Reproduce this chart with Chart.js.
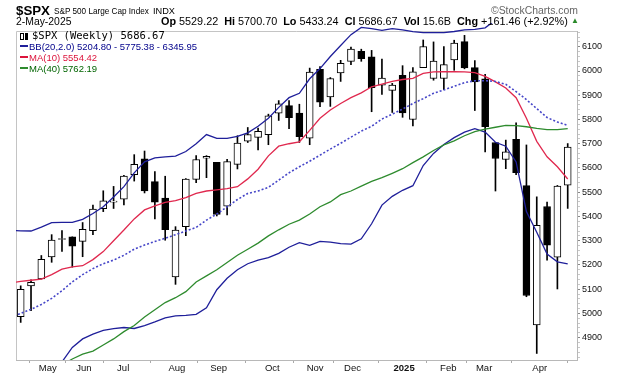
<!DOCTYPE html>
<html><head><meta charset="utf-8">
<script src="https://cdn.jsdelivr.net/npm/chart.js@4/dist/chart.umd.min.js"></script>
<style>
html,body{margin:0;padding:0;background:#fff;}
#wrap{position:relative;width:620px;height:376px;overflow:hidden;font-family:"Liberation Sans",Arial,sans-serif;color:#000;}
canvas{position:absolute;left:0;top:0;}
.t{position:absolute;white-space:pre;line-height:1;}
.lg{position:absolute;white-space:pre;line-height:11px;font-size:9.5px;left:20px;}
.mk{display:inline-block;width:8px;height:2px;vertical-align:middle;margin-right:1px;position:relative;top:-1px;}
</style></head><body>
<div id="wrap">
<canvas id="c" width="620" height="376"></canvas>
<div class="t hd" data-x="16" data-b="15" data-w="34" style="font-size:13px;font-weight:bold;">$SPX</div>
<div class="t hd" data-x="54" data-b="14.5" data-w="95" style="font-size:9px;">S&amp;P 500 Large Cap Index</div>
<div class="t hd" data-x="153" data-b="14.5" data-w="22" style="font-size:9px;">INDX</div>
<div class="t hd" data-x="491" data-b="15" data-w="87" style="font-size:10px;color:#666;">©StockCharts.com</div>
<div class="t hd" data-x="16" data-b="25.5" data-w="55.5" style="font-size:10.4px;">2-May-2025</div>
<div class="t hd" data-x="161" data-b="25.5" data-w="407" style="font-size:10.4px;"><b>Op</b> 5529.22  <b>Hi</b> 5700.70  <b>Lo</b> 5433.24  <b>Cl</b> 5686.67  <b>Vol</b> 15.6B  <b>Chg</b> +161.46 (+2.92%)</div>
<div class="t" style="left:571px;top:17px;font-size:8px;color:#2a8a2a;">▲</div>
<div class="lg" style="top:30px;font-family:'DejaVu Sans Mono',monospace;font-size:10.5px;"><span style="display:inline-block;width:2px;height:5px;border:1px solid #000;vertical-align:middle;margin-right:1px;"></span><span style="display:inline-block;width:3px;height:7px;background:#000;vertical-align:middle;margin-right:4px;"></span>$SPX (Weekly) 5686.67</div>
<div class="lg" style="top:41px;color:#00008b;"><span class="mk" style="background:#1f1f9a;"></span>BB(20,2.0) 5204.80 - 5775.38 - 6345.95</div>
<div class="lg" style="top:52px;color:#dc143c;"><span class="mk" style="background:#dc143c;"></span>MA(10) 5554.42</div>
<div class="lg" style="top:63px;color:#006400;"><span class="mk" style="background:#2e8b2e;"></span>MA(40) 5762.19</div>
</div>
<script>
// Weekly candles, 26-Apr-2024 .. 2-May-2025 (week index 0..53)
const opens  = [4987,5114,5142,5233,5305,5316,5297,5341,5432,5459,5471,5572,5638,5544,5476,5151,5358,5553,5640,5623,
                5442,5615,5711,5726,5737,5826,5857,5826,5723,6007,5893,5992,6040,6081,6058,5942,5920,5982,5800,6014,
                5969,5969,6046,6121,6014,5968,5705,5635,5718,5527,4953,5441,5232,5529.22];
const highs  = [5114,5139,5239,5325,5342,5316,5375,5447,5506,5524,5570,5655,5670,5585,5566,5358,5556,5651,5651,5623,
                5636,5733,5767,5765,5822,5878,5878,5863,6012,6018,5973,6044,6099,6090,6085,6049,5949,6022,6014,6128,
                6120,6101,6127,6147,6043,5986,5705,5715,5786,5695,5481,5459,5528,5700.70];
const lows   = [4963,5011,5142,5211,5256,5191,5234,5325,5420,5433,5448,5546,5497,5390,5302,5120,5321,5539,5560,5402,
                5406,5596,5705,5674,5696,5796,5762,5705,5696,5853,5854,5957,6026,6040,5832,5903,5829,5809,5773,6014,
                5962,5923,6003,6009,5837,5666,5505,5597,5572,5069,4835,5220,5101,5433.24];
const closes = [5100,5128,5223,5303,5305,5278,5347,5431,5465,5460,5567,5615,5505,5459,5346,5344,5554,5635,5648,5408,
                5626,5703,5738,5751,5815,5865,5808,5729,5996,5871,5969,6032,6090,6051,5931,5971,5942,5827,5997,6101,
                6041,6026,6115,6013,5955,5770,5639,5667,5581,5074,5363,5282,5525,5686.67];

// Indicator lines (week index -1..53; the first value is the week before the first candle)
const lineStart = -1;
const bbUpper = [5342,5341,5340,5356,5375,5376,5376,5388,5412,5440,5480,5523,5580,5625,5642,5646,5649,5668,5700,5738,5722,
                 5722,5730,5745,5772,5805,5850,5890,5908,5968,6010,6060,6105,6150,6180,6175,6168,6175,6170,6162,6158,
                 6158,6158,6163,6170,6172,6178,6210,6240,6270,6300,6330,6340,6342,6345.95];
const bbMid   = [4985,5000,5017,5037,5062,5094,5130,5160,5185,5205,5220,5240,5265,5282,5297,5310,5325,5340,5355,5385,5410,
                 5440,5470,5495,5505,5520,5550,5580,5605,5628,5653,5678,5702,5727,5752,5772,5802,5822,5843,5866,5886,
                 5908,5922,5937,5952,5960,5960,5957,5945,5915,5882,5845,5808,5790,5775.38];
const bbLower = [4630,4660,4690,4720,4755,4800,4860,4895,4915,4930,4937,4942,4938,4950,4965,4982,4990,4992,4996,5023,5098,
                 5145,5180,5205,5220,5230,5248,5273,5292,5281,5297,5294,5288,5286,5308,5370,5447,5483,5508,5527,5610,
                 5660,5697,5725,5748,5762,5748,5706,5690,5625,5420,5335,5245,5213,5204.80];
const ma10    = [5126,5132,5137,5142,5160,5183,5192,5197,5222,5255,5300,5344,5390,5427,5444,5458,5465,5478,5495,5505,5510,
                 5515,5523,5555,5595,5650,5690,5700,5708,5755,5805,5839,5866,5890,5910,5935,5946,5957,5965,5970,5990,
                 5996,5997,5997,5996,5993,5978,5955,5930,5890,5805,5710,5646,5605,5554.42];
const ma40    = [4665,4690,4715,4740,4765,4788,4812,4832,4845,4870,4895,4925,4950,4985,5015,5045,5065,5090,5130,5155,5180,
                 5210,5240,5265,5290,5320,5345,5368,5385,5410,5440,5460,5490,5505,5525,5545,5560,5578,5597,5622,5646,
                 5672,5695,5712,5733,5750,5760,5768,5776,5775,5770,5763,5758,5758,5762.19];

// Month labels and where they sit on the week axis
const monthLabels = ['May','Jun','Jul','Aug','Sep','Oct','Nov','Dec','2025','Feb','Mar','Apr'];
const monthPos    = [2.62,6.13,9.93,15.14,19.18,24.38,28.53,32.15,37.15,41.43,44.90,50.29];

// fit header texts to their measured spans
document.querySelectorAll('.hd').forEach(el=>{
  const fs = parseFloat(getComputedStyle(el).fontSize);
  const w = el.getBoundingClientRect().width;
  const nfs = fs * parseFloat(el.dataset.w) / w;
  el.style.fontSize = nfs + 'px';
  el.style.left = el.dataset.x + 'px';
  el.style.top = (parseFloat(el.dataset.b) - 0.8465*nfs) + 'px';
});

const pts = arr => arr.map((v,i)=>({x:i+lineStart,y:v}));

const framePlugin = {
  id:'frame',
  beforeDatasetsDraw(chart){
    const {ctx, chartArea:a} = chart;
    ctx.save();
    ctx.strokeStyle='#c4c4c4'; ctx.lineWidth=1;
    ctx.beginPath();
    ctx.moveTo(Math.floor(a.left)+0.5, a.bottom); ctx.lineTo(Math.floor(a.left)+0.5, Math.floor(a.top)+0.5);
    ctx.lineTo(a.right, Math.floor(a.top)+0.5);
    ctx.stroke();
    ctx.restore();
  }
};

new Chart(document.getElementById('c'), {
  type:'bar',
  data:{
    datasets:[
      {label:'MA40', type:'line', data:pts(ma40), borderColor:'#2e8b2e', borderWidth:1.3, pointRadius:0, order:1},
      {label:'BBlow', type:'line', data:pts(bbLower), borderColor:'#1f1f9a', borderWidth:1.3, pointRadius:0, order:1},
      {label:'BBmid', type:'line', data:pts(bbMid), borderColor:'#4646c8', borderWidth:1.6, borderDash:[2,2], pointRadius:0, order:1},
      {label:'MA10', type:'line', data:pts(ma10), borderColor:'#e0284e', borderWidth:1.3, pointRadius:0, order:1},
      {label:'BBup', type:'line', data:pts(bbUpper), borderColor:'#1f1f9a', borderWidth:1.3, pointRadius:0, order:1,
       clip:{left:0,top:8,right:0,bottom:0}},
      {label:'body', data:opens.map((o,i)=>({x:i,y:[o,closes[i]]})),
       backgroundColor:opens.map((o,i)=>closes[i]>=o?'#ffffff':'#000000'),
       borderColor:'#000', borderWidth:1, borderSkipped:false, barThickness:7, minBarLength:1, grouped:false, order:2},
      {label:'wick', data:lows.map((l,i)=>({x:i,y:[l,highs[i]]})),
       backgroundColor:'#000', borderWidth:0, barThickness:1, grouped:false, order:3}
    ]
  },
  options:{
    responsive:false, animation:false, devicePixelRatio:1,
    layout:{padding:{left:16,top:31,right:0,bottom:0}},
    plugins:{legend:{display:false}, tooltip:{enabled:false}},
    scales:{
      x:{type:'linear', min:-0.455, max:53.9, offset:false,
         afterBuildTicks(s){ s.ticks = monthPos.map(v=>({value:v})); },
         afterFit(s){ s.height = 16; },
         ticks:{autoSkip:false, maxRotation:0, padding:0, color:'#111',
                callback:(v,i)=>monthLabels[i],
                font:(c)=>({family:'"Liberation Sans", Arial, sans-serif', size:9.5,
                            weight: monthLabels[c.index]==='2025' ? 'bold':'normal'})},
         grid:{drawOnChartArea:false, drawTicks:true, tickLength:3, color:'#aaa'},
         border:{display:true, color:'#b8b8b8'}},
      y:{type:'linear', position:'right', min:4808, max:6165,
         afterFit(s){ s.width = 43; },
         ticks:{stepSize:20, includeBounds:false, autoSkip:false, padding:2, color:'#111',
                callback:v=> (Math.round(v)%100===0 ? String(v) : ''),
                font:{family:'"Liberation Sans", Arial, sans-serif', size:9}},
         grid:{drawOnChartArea:false, drawTicks:true, tickLength:3,
               color:(c)=> (c.tick && Math.round(c.tick.value)%100===0 ? '#888':'#c8c8c8')},
         border:{display:true, color:'#b8b8b8'}}
    }
  },
  plugins:[framePlugin]
});
</script>
</body></html>
